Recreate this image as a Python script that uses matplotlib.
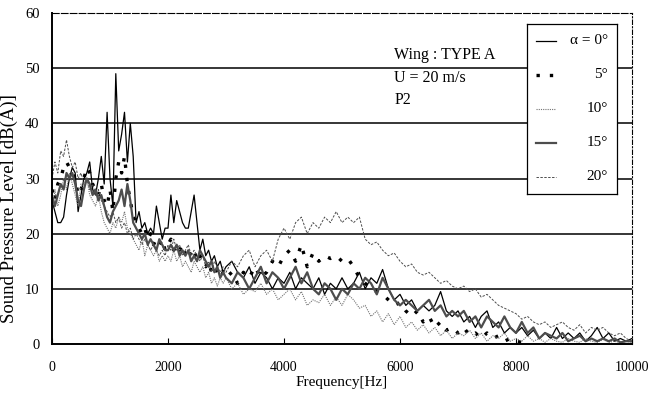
import numpy as np
import matplotlib
matplotlib.use("Agg")
import matplotlib.pyplot as plt

plt.rcParams['font.family'] = ['Liberation Serif', 'DejaVu Serif']

# frequency bins [Hz]: 50 Hz steps up to 3 kHz, 100 Hz steps above
freq = np.concatenate([np.arange(0, 3000, 50), np.arange(3000, 10001, 100)])

# sound pressure level [dB(A)] for each angle of attack
spl_0 = [
    26, 24, 22, 22, 23, 27, 30, 32, 31, 24,
    27, 30, 31, 33, 28, 27, 30, 34, 29, 42,
    30, 25, 49, 35, 38, 42, 33, 40, 34, 22,
    24, 21, 22, 20, 21, 20, 25, 22, 19, 21,
    21, 27, 22, 26, 24, 22, 21, 21, 24, 27,
    22, 17, 19, 16, 17, 15, 16, 14, 15, 13,
    14, 15, 13, 12, 14, 11, 13, 12, 10, 12,
    11, 13, 10, 12, 11, 10, 12, 9, 11, 10,
    12, 10, 11, 13, 10, 12, 11, 13.5, 10, 8,
    9, 7, 8, 6, 7, 6, 7, 9.5, 6, 5,
    6, 4, 5, 3, 5, 6, 3, 4, 2, 3,
    2, 3, 1.5, 2.5, 1, 2, 1, 3, 1, 2,
    1, 2, 0.5, 1.5, 3, 1, 2, 0.5, 1, 0.5,
    1]
spl_5 = [
    28, 26, 29, 30, 32, 33, 32, 31, 30, 27,
    28, 30, 32, 31, 29, 28, 27, 29, 26, 25,
    28, 24, 30, 33, 31, 34, 29, 26, 23, 22,
    21, 20, 21, 19, 20, 18, 19, 18, 19, 17,
    18, 19, 17, 18, 17, 18, 16, 17, 16, 17,
    15, 16, 15, 14, 15, 13, 14, 13, 12, 13,
    12, 13, 11, 13, 12, 14, 12, 13, 15, 14,
    16, 17, 15, 18, 14, 16.5, 15, 16, 15.5, 16,
    15, 15.5, 14, 12, 11, 10, 9.5, 9, 8, 7,
    7.5, 6, 5, 6, 4, 5, 3, 4, 2.5, 3,
    2, 3, 1.5, 2, 1, 2, 1, 1.5, 0.5, 1,
    0.5, 0.3, -1, -1, -1, -1, -1, -1, -1, -1,
    -1, -1, -1, -1, -1, -1, -1, -1, -1, -1,
    -1]
spl_10 = [
    24, 28, 25, 27, 30, 28, 31, 29, 27, 25,
    29, 28, 30, 27, 26, 25, 27, 24, 22, 21,
    20, 22, 21, 23, 22, 24, 21, 20, 19, 18,
    17, 19, 16, 18, 17, 16, 17, 15, 16, 15,
    16, 15, 17, 15, 16, 14, 15, 14, 13, 15,
    14, 13, 14, 12, 13, 11, 12, 10.5, 12, 11,
    12, 10, 11, 9, 10, 9.5, 11, 9, 10, 8,
    9, 10, 8, 9.5, 7, 8, 7.5, 9, 7, 8.5,
    7, 9, 8, 6.5, 7, 5, 6, 4, 5.5, 3.5,
    5, 3, 4, 2.5, 3.5, 2, 3, 1.5, 2.5, 1,
    2, 1.5, 2.5, 1, 2, 0.5, 1.5, 1, 2, 0.5,
    1, 0.5, 1.5, 0.5, 1, 0.3, 1, 0.5, 0.3, 1,
    0.5, 0.3, 1, 0.5, 0.3, 0.8, 0.3, 0.5, 0.2, 0.5,
    0.3]
spl_15 = [
    27, 25, 27, 29, 28, 31, 30, 31, 29, 26,
    25, 28, 30, 29, 27, 28, 26, 27, 25, 23,
    22, 24, 25, 26, 28, 25, 29, 26, 22, 21,
    20, 19, 20, 18, 19, 18, 17, 19, 18, 17,
    17, 18, 17, 18, 16, 17, 16, 17, 15, 16,
    15, 17, 16, 15, 14, 15, 13, 14, 12, 13,
    12, 11, 13, 12, 10, 12, 14, 11, 13, 12,
    10, 12, 14, 11, 13, 10, 9, 11, 10, 8,
    10, 9, 11, 10, 12, 11, 9, 12, 10, 8,
    7, 8, 7, 6, 7, 8, 6, 7, 5, 6,
    5, 6, 4, 5, 3, 5, 4, 3, 5, 3,
    2, 4, 2, 3, 1, 2, 1.5, 1, 2, 0.5,
    1, 1.5, 0.5, 1, 0.5, 1, 0.5, 1, 0.3, 0.5,
    0.5]
spl_20 = [
    30, 33, 31, 35, 34, 37, 34, 32, 33, 30,
    31, 29, 30, 28, 29, 27, 28, 26, 25, 24,
    23, 24, 22, 23, 21, 22, 20, 21, 19, 20,
    19, 18, 19, 18, 17, 18, 17, 16, 17, 16,
    18, 17, 19, 17, 18, 16, 17, 18, 16, 17,
    16, 15, 16, 14, 15, 13, 15, 14, 13, 14,
    13, 15, 14, 16, 17, 14, 16, 17, 15, 19,
    21, 19, 22, 23, 20, 22, 21, 23, 22, 24,
    22, 23, 22, 23, 19, 18, 18.5, 17, 16, 16.5,
    15, 14, 14.5, 13, 12.5, 13, 12, 11, 11.5, 10.5,
    10, 10.5, 9.5, 10, 8.5, 9, 8, 7, 6.5, 6,
    5.5, 4.5, 5, 4, 3.5, 4, 3, 3.5, 4, 3,
    2.5, 3.5, 2, 3, 2.5, 3, 2, 1.5, 2, 1,
    0.5]

labels = ['α = 0°', '5°', '10°', '15°', '20°']
series = [spl_0, spl_5, spl_10, spl_15, spl_20]
styles = [
    dict(color='black', lw=0.9, ls='-'),
    dict(color='black', lw=2.4, ls=(0, (1, 3)), dash_capstyle='butt'),
    dict(color='0.45', lw=0.8, ls=(0, (1, 1))),
    dict(color='0.3', lw=1.6, ls='-'),
    dict(color='0.3', lw=0.7, ls=(0, (2.5, 1.5))),
]
notes = ['Wing : TYPE A', 'U = 20 m/s', 'P2']

fig = plt.figure(figsize=(6.64, 3.98), dpi=100)
ax = fig.add_axes([52 / 664, 54 / 398, 580 / 664, 331 / 398])

for spl, st in zip(series, styles):
    ax.plot(freq, spl, **st)

ax.set_xlim(0, 10000)
ax.set_ylim(0, 60)
ax.set_xticks(np.arange(0, 10001, 2000))
ax.set_yticks(np.arange(0, 61, 10))
for y in range(10, 60, 10):
    ax.axhline(y, color='black', lw=1.1, zorder=0.5)

ax.spines['left'].set_linewidth(1.4)
ax.spines['bottom'].set_linewidth(1.4)
ax.spines['top'].set_linewidth(0.8)
ax.spines['top'].set_linestyle((0, (6, 2)))
ax.spines['right'].set_linewidth(0.8)
ax.spines['right'].set_linestyle((0, (4, 2, 1, 2)))
ax.tick_params(axis='x', direction='in', length=4, pad=12, labelsize=10)
ax.tick_params(axis='y', length=0, pad=9, labelsize=10.5)
ax.set_xlabel('Frequency[Hz]', fontsize=11, labelpad=2)
ax.set_ylabel('Sound Pressure Level [dB(A)]', fontsize=13.5)
ax.yaxis.set_label_coords(-0.058, 0.41)

for i, s in enumerate(notes):
    ax.text(5900, 52.3 - 4.0 * i, s, fontsize=11.5, va='center', ha='left')

# legend box drawn by hand so the labels can sit right-aligned
lax = fig.add_axes([527 / 664, 204 / 398, 90 / 664, 170 / 398])
lax.set_xlim(0, 1)
lax.set_ylim(0, 1)
lax.set_xticks([])
lax.set_yticks([])
for sp in lax.spines.values():
    sp.set_linewidth(0.9)
rows = np.linspace(0.9, 0.1, 5)
for y, lab, st in zip(rows, labels, styles):
    lax.plot([0.1, 0.32], [y, y], **st)
    lax.text(0.9, y, lab, fontsize=11, ha='right', va='center')

fig.savefig('out.png', dpi=100)
